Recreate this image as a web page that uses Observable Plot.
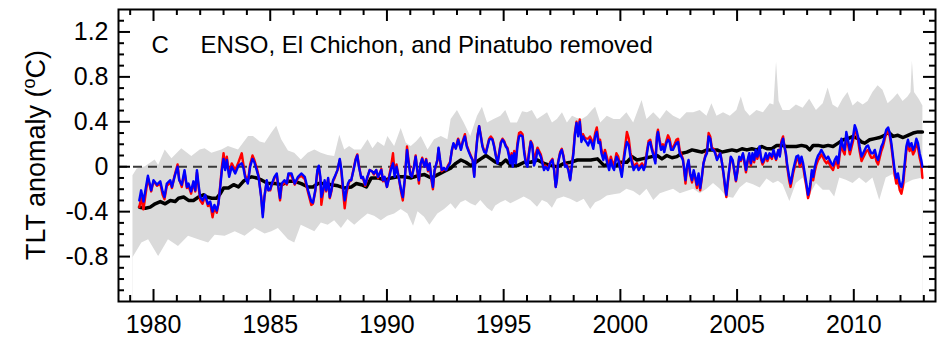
<!DOCTYPE html>
<html>
<head>
<meta charset="utf-8">
<script src="https://cdn.jsdelivr.net/npm/d3@7"></script>
<script src="https://cdn.jsdelivr.net/npm/@observablehq/plot@0.6"></script>
<style>
html, body { margin: 0; padding: 0; background: #fff; }
#chart svg { display: block; }
</style>
</head>
<body>
<div id="chart"></div>
<script>
// ---- Tick labels ----
const xMajorTicks = [1980, 1985, 1990, 1995, 2000, 2005, 2010];
const xMinorTicks = [1979, 1981, 1982, 1983, 1984, 1986, 1987, 1988, 1989, 1991, 1992, 1993, 1994, 1996, 1997, 1998, 1999, 2001, 2002, 2003, 2004, 2006, 2007, 2008, 2009, 2011, 2012, 2013];
const yMajorTicks = [-0.8, -0.4, 0, 0.4, 0.8, 1.2];
const yMinorTicks = [-1.1, -1.0, -0.9, -0.7, -0.6, -0.5, -0.3, -0.2, -0.1, 0.1, 0.2, 0.3, 0.5, 0.6, 0.7, 0.9, 1.0, 1.1, 1.3];

// ---- Satellite observations: [year, blue (UAH), red (RSS)] ----
const satObs = [
[1979.39,-0.30,-0.36],[1979.47,-0.21,-0.28],[1979.57,-0.31,-0.38],[1979.76,-0.08,-0.10],[1979.90,-0.21,-0.22],
[1980.00,-0.12,-0.13],[1980.15,-0.16,-0.17],[1980.29,-0.13,-0.15],[1980.39,-0.22,-0.25],[1980.47,-0.27,-0.29],
[1980.57,-0.15,-0.17],[1980.72,-0.12,-0.14],[1980.79,-0.18,-0.19],[1980.90,-0.09,-0.08],[1981.03,0.00,0.02],
[1981.10,-0.12,-0.11],[1981.21,-0.16,-0.18],[1981.33,-0.03,-0.05],[1981.43,-0.18,-0.19],[1981.50,-0.15,-0.17],
[1981.61,-0.22,-0.24],[1981.71,-0.13,-0.14],[1981.79,-0.21,-0.22],[1981.86,-0.03,-0.05],[1981.93,-0.16,-0.18],
[1982.00,-0.27,-0.30],[1982.10,-0.30,-0.33],[1982.21,-0.25,-0.26],[1982.33,-0.33,-0.35],[1982.43,-0.31,-0.33],
[1982.53,-0.40,-0.45],[1982.61,-0.34,-0.36],[1982.71,-0.39,-0.41],[1982.78,-0.33,-0.33],[1982.86,-0.18,-0.16],
[1982.93,-0.03,0.00],[1983.00,0.07,0.12],[1983.07,-0.03,0.00],[1983.14,0.06,0.09],[1983.24,-0.09,-0.07],
[1983.35,0.00,0.03],[1983.50,-0.06,-0.03],[1983.64,0.01,0.04],[1983.78,0.03,0.12],[1983.85,-0.01,0.02],
[1983.92,-0.09,-0.07],[1984.04,-0.15,-0.14],[1984.14,0.00,0.02],[1984.24,0.07,0.10],[1984.32,0.04,0.06],
[1984.42,-0.03,-0.01],[1984.50,-0.09,-0.08],[1984.61,-0.27,-0.26],[1984.68,-0.45,-0.42],[1984.75,-0.27,-0.27],
[1984.85,-0.12,-0.13],[1984.92,-0.21,-0.21],[1985.00,-0.20,-0.21],[1985.07,-0.15,-0.16],[1985.18,-0.09,-0.10],
[1985.28,-0.06,-0.07],[1985.35,-0.18,-0.19],[1985.42,-0.28,-0.30],[1985.49,-0.15,-0.17],[1985.61,-0.12,-0.14],
[1985.71,-0.15,-0.16],[1985.78,-0.06,-0.07],[1985.91,-0.06,-0.08],[1986.05,-0.15,-0.16],[1986.19,-0.09,-0.10],
[1986.33,-0.06,-0.08],[1986.48,-0.09,-0.11],[1986.62,-0.21,-0.23],[1986.76,-0.31,-0.34],[1986.83,-0.32,-0.33],
[1986.93,-0.21,-0.22],[1987.02,-0.03,-0.04],[1987.08,0.01,0.00],[1987.15,-0.09,-0.12],[1987.19,-0.27,-0.34],
[1987.26,-0.21,-0.24],[1987.33,-0.12,-0.14],[1987.40,-0.21,-0.22],[1987.48,-0.10,-0.11],[1987.55,-0.27,-0.28],
[1987.62,-0.21,-0.22],[1987.69,-0.12,-0.13],[1987.76,-0.09,-0.10],[1987.88,-0.03,-0.03],[1987.98,0.07,0.06],
[1988.05,-0.03,-0.05],[1988.12,-0.18,-0.22],[1988.19,-0.30,-0.37],[1988.26,-0.21,-0.25],[1988.33,-0.15,-0.17],
[1988.40,-0.12,-0.13],[1988.47,-0.12,-0.12],[1988.57,-0.03,-0.02],[1988.66,0.06,0.07],[1988.73,0.10,0.11],
[1988.80,0.00,0.01],[1988.90,-0.10,-0.10],[1988.97,-0.09,-0.10],[1989.07,-0.16,-0.17],[1989.16,-0.09,-0.10],
[1989.26,-0.03,-0.03],[1989.36,-0.04,-0.04],[1989.44,-0.06,-0.07],[1989.54,-0.03,-0.03],[1989.62,-0.09,-0.10],
[1989.76,-0.03,-0.02],[1989.83,-0.12,-0.13],[1989.90,-0.09,-0.10],[1990.00,-0.18,-0.18],[1990.09,-0.10,-0.09],
[1990.19,-0.01,0.02],[1990.26,0.03,0.12],[1990.33,-0.09,-0.06],[1990.41,0.00,0.02],[1990.50,-0.09,-0.09],
[1990.61,-0.21,-0.23],[1990.68,-0.27,-0.30],[1990.76,-0.12,-0.13],[1990.86,0.15,0.18],[1990.93,0.03,0.05],
[1991.00,-0.07,-0.06],[1991.07,-0.09,-0.09],[1991.16,0.00,0.01],[1991.23,0.09,0.10],[1991.30,-0.03,-0.04],
[1991.37,-0.12,-0.15],[1991.44,0.03,0.02],[1991.51,0.07,0.08],[1991.61,0.00,0.00],[1991.68,0.06,0.07],
[1991.76,-0.03,-0.04],[1991.83,0.03,0.03],[1991.90,-0.09,-0.11],[1991.97,-0.18,-0.20],[1992.04,-0.03,-0.04],
[1992.16,0.06,0.06],[1992.21,0.17,0.16],[1992.28,0.06,0.04],[1992.35,-0.03,-0.04],[1992.44,-0.01,-0.02],
[1992.53,-0.03,-0.03],[1992.61,0.00,0.01],[1992.70,0.03,0.04],[1992.78,0.15,0.14],[1992.85,0.21,0.20],
[1992.95,0.16,0.17],[1993.05,0.24,0.25],[1993.17,0.15,0.16],[1993.25,0.22,0.23],[1993.34,0.27,0.29],
[1993.42,0.18,0.19],[1993.51,0.13,0.14],[1993.59,0.09,0.10],[1993.67,0.06,0.06],[1993.74,-0.09,-0.08],
[1993.80,0.09,0.10],[1993.88,0.27,0.28],[1993.95,0.36,0.36],[1994.02,0.27,0.28],[1994.09,0.18,0.19],
[1994.17,0.13,0.14],[1994.24,0.12,0.13],[1994.31,0.18,0.19],[1994.38,0.24,0.25],[1994.45,0.25,0.27],
[1994.52,0.24,0.25],[1994.59,0.18,0.19],[1994.66,0.10,0.11],[1994.74,0.03,0.04],[1994.81,0.12,0.13],
[1994.88,0.21,0.22],[1994.95,0.24,0.25],[1995.02,0.22,0.23],[1995.09,0.18,0.19],[1995.16,0.16,0.17],
[1995.23,0.09,0.11],[1995.28,0.03,0.05],[1995.34,0.10,0.12],[1995.39,0.00,0.02],[1995.45,0.12,0.14],
[1995.52,0.03,0.05],[1995.59,0.18,0.21],[1995.66,0.27,0.30],[1995.73,0.28,0.31],[1995.81,0.27,0.29],
[1995.88,0.12,0.15],[1995.95,0.03,0.05],[1996.02,0.00,0.02],[1996.09,0.12,0.14],[1996.16,0.22,0.23],
[1996.23,0.18,0.20],[1996.30,0.01,0.04],[1996.38,0.06,0.12],[1996.45,0.15,0.17],[1996.52,0.12,0.14],
[1996.59,0.09,0.11],[1996.66,0.03,0.05],[1996.73,-0.03,-0.01],[1996.80,0.00,0.01],[1996.90,-0.03,-0.02],
[1996.99,0.03,0.04],[1997.09,0.06,0.07],[1997.16,-0.03,-0.02],[1997.23,-0.18,-0.18],[1997.28,-0.12,-0.11],
[1997.33,0.03,0.04],[1997.42,0.12,0.13],[1997.49,0.15,0.16],[1997.56,0.09,0.10],[1997.63,0.00,0.01],
[1997.70,0.01,0.02],[1997.77,-0.03,-0.02],[1997.85,-0.12,-0.11],[1997.92,0.00,0.01],[1997.99,0.12,0.14],
[1998.05,0.28,0.30],[1998.12,0.39,0.40],[1998.19,0.27,0.30],[1998.26,0.40,0.42],[1998.33,0.22,0.26],
[1998.40,0.27,0.29],[1998.47,0.24,0.26],[1998.54,0.22,0.25],[1998.62,0.19,0.25],[1998.70,0.24,0.27],
[1998.77,0.21,0.24],[1998.84,0.16,0.19],[1998.92,0.27,0.30],[1998.99,0.31,0.35],[1999.06,0.21,0.24],
[1999.13,0.22,0.24],[1999.19,0.12,0.15],[1999.27,0.06,0.09],[1999.34,0.12,0.15],[1999.44,0.03,0.07],
[1999.52,-0.03,0.01],[1999.59,0.06,0.09],[1999.66,0.00,0.04],[1999.73,-0.03,0.01],[1999.83,0.09,0.12],
[1999.91,0.06,0.09],[2000.00,-0.03,0.00],[2000.06,-0.09,-0.06],[2000.11,0.00,0.03],[2000.21,0.15,0.19],
[2000.28,0.22,0.31],[2000.36,0.19,0.25],[2000.43,0.09,0.13],[2000.50,0.03,0.06],[2000.57,-0.03,0.00],
[2000.64,0.00,0.02],[2000.71,0.01,0.03],[2000.78,-0.03,-0.01],[2000.85,-0.01,0.01],[2000.93,0.01,0.03],
[2001.00,-0.03,-0.01],[2001.07,0.01,0.03],[2001.14,0.12,0.14],[2001.21,0.21,0.23],[2001.28,0.22,0.24],
[2001.35,0.15,0.17],[2001.43,0.09,0.11],[2001.50,0.03,0.05],[2001.57,0.27,0.29],[2001.61,0.31,0.33],
[2001.68,0.22,0.24],[2001.74,0.15,0.18],[2001.82,0.18,0.20],[2001.88,0.13,0.16],[2001.97,0.21,0.23],
[2002.04,0.24,0.28],[2002.11,0.22,0.25],[2002.17,0.15,0.18],[2002.25,0.15,0.17],[2002.32,0.18,0.20],
[2002.40,0.21,0.24],[2002.47,0.22,0.25],[2002.54,0.12,0.15],[2002.61,0.09,0.11],[2002.68,0.06,0.07],
[2002.74,-0.03,-0.05],[2002.79,-0.12,-0.15],[2002.85,0.00,-0.02],[2002.92,0.06,0.05],[2002.99,-0.06,-0.07],
[2003.07,-0.12,-0.14],[2003.14,-0.03,-0.05],[2003.21,-0.09,-0.11],[2003.28,-0.16,-0.19],[2003.35,-0.06,-0.08],
[2003.42,-0.19,-0.21],[2003.49,-0.09,-0.10],[2003.56,0.03,0.03],[2003.64,0.09,0.10],[2003.71,0.12,0.14],
[2003.78,0.27,0.30],[2003.85,0.25,0.27],[2003.92,0.15,0.17],[2003.99,0.15,0.16],[2004.06,0.12,0.13],
[2004.14,0.06,0.07],[2004.21,0.09,0.10],[2004.28,0.12,0.12],[2004.35,0.04,0.04],[2004.42,-0.06,-0.07],
[2004.49,-0.18,-0.20],[2004.54,-0.25,-0.27],[2004.59,-0.15,-0.17],[2004.66,-0.03,-0.04],[2004.73,0.09,0.08],
[2004.81,0.06,0.05],[2004.88,-0.03,-0.04],[2004.95,-0.12,-0.13],[2005.02,-0.03,-0.04],[2005.09,0.09,0.08],
[2005.16,0.06,0.05],[2005.25,0.12,0.11],[2005.31,0.06,0.04],[2005.38,-0.03,-0.05],[2005.45,0.06,0.04],
[2005.52,0.12,0.10],[2005.59,0.03,0.01],[2005.66,0.12,0.10],[2005.73,0.06,0.04],[2005.80,0.15,0.13],
[2005.87,0.09,0.07],[2005.96,0.18,0.16],[2006.02,0.09,0.07],[2006.09,0.04,0.02],[2006.16,0.07,0.05],
[2006.23,0.12,0.10],[2006.30,0.07,0.05],[2006.39,0.12,0.10],[2006.49,0.09,0.07],[2006.56,0.15,0.13],
[2006.67,0.07,0.06],[2006.77,0.15,0.15],[2006.83,0.09,0.10],[2006.90,0.21,0.23],[2006.97,0.25,0.27],
[2007.03,0.18,0.18],[2007.09,0.12,0.11],[2007.14,0.03,0.01],[2007.23,-0.09,-0.12],[2007.29,-0.15,-0.18],
[2007.34,-0.10,-0.13],[2007.40,-0.03,-0.06],[2007.47,0.03,0.00],[2007.54,0.09,0.06],[2007.62,0.10,0.07],
[2007.69,0.03,0.00],[2007.76,0.09,0.06],[2007.83,0.03,0.00],[2007.90,-0.06,-0.09],[2007.97,-0.15,-0.18],
[2008.04,-0.25,-0.28],[2008.09,-0.21,-0.24],[2008.14,-0.15,-0.18],[2008.20,-0.03,-0.06],[2008.26,-0.09,-0.12],
[2008.33,0.00,-0.04],[2008.40,0.06,0.02],[2008.47,0.10,0.06],[2008.54,0.12,0.08],[2008.61,0.15,0.11],
[2008.69,0.12,0.08],[2008.76,0.09,0.05],[2008.83,0.07,0.03],[2008.90,0.09,0.05],[2008.97,0.06,0.02],
[2009.04,0.03,-0.01],[2009.11,0.01,-0.03],[2009.18,0.06,0.02],[2009.26,0.09,0.05],[2009.33,0.03,-0.01],
[2009.40,0.15,0.11],[2009.47,0.25,0.20],[2009.54,0.18,0.14],[2009.61,0.15,0.11],[2009.68,0.31,0.27],
[2009.75,0.24,0.20],[2009.83,0.15,0.11],[2009.90,0.21,0.17],[2009.97,0.27,0.23],[2010.04,0.37,0.33],
[2010.11,0.33,0.30],[2010.18,0.27,0.24],[2010.25,0.18,0.14],[2010.33,0.09,0.05],[2010.40,0.12,0.08],
[2010.47,0.15,0.11],[2010.54,0.18,0.14],[2010.61,0.19,0.15],[2010.68,0.15,0.11],[2010.75,0.12,0.08],
[2010.82,0.12,0.08],[2010.90,0.15,0.11],[2010.97,0.09,0.05],[2011.04,0.06,0.02],[2011.11,0.12,0.08],
[2011.18,0.18,0.14],[2011.25,0.21,0.18],[2011.32,0.27,0.24],[2011.39,0.33,0.30],[2011.47,0.35,0.31],
[2011.54,0.30,0.27],[2011.61,0.21,0.18],[2011.68,0.09,0.06],[2011.75,-0.03,-0.07],[2011.82,-0.10,-0.15],
[2011.89,-0.06,-0.11],[2011.97,-0.15,-0.21],[2012.04,-0.18,-0.24],[2012.11,-0.12,-0.17],[2012.18,0.03,-0.01],
[2012.25,0.18,0.14],[2012.32,0.24,0.20],[2012.39,0.18,0.14],[2012.47,0.21,0.17],[2012.54,0.15,0.11],
[2012.61,0.18,0.14],[2012.68,0.25,0.21],[2012.75,0.21,0.17],[2012.82,0.12,0.08],[2012.89,0.06,0.02],
[2012.94,0.00,-0.10]
];

// ---- Multi-model mean (black): [year, value] ----
const modelMean = [
[1979.40,-0.36],[1979.65,-0.37],[1979.86,-0.36],[1980.07,-0.33],[1980.29,-0.31],[1980.50,-0.33],[1980.72,-0.30],
[1980.93,-0.31],[1981.07,-0.28],[1981.29,-0.27],[1981.50,-0.30],[1981.71,-0.30],[1981.93,-0.27],[1982.14,-0.25],
[1982.29,-0.27],[1982.50,-0.28],[1982.71,-0.28],[1982.86,-0.24],[1983.00,-0.19],[1983.21,-0.19],[1983.43,-0.16],
[1983.64,-0.18],[1983.85,-0.13],[1984.07,-0.10],[1984.21,-0.09],[1984.42,-0.10],[1984.64,-0.12],[1984.92,-0.15],
[1985.21,-0.15],[1985.49,-0.16],[1985.78,-0.13],[1986.05,-0.13],[1986.33,-0.15],[1986.62,-0.18],[1986.83,-0.18],
[1987.05,-0.15],[1987.33,-0.15],[1987.62,-0.16],[1987.90,-0.17],[1988.19,-0.19],[1988.47,-0.18],[1988.69,-0.15],
[1988.90,-0.16],[1989.12,-0.18],[1989.33,-0.10],[1989.62,-0.10],[1989.90,-0.12],[1990.19,-0.10],[1990.47,-0.09],
[1990.76,-0.09],[1991.04,-0.10],[1991.33,-0.08],[1991.61,-0.07],[1991.90,-0.10],[1992.18,-0.07],[1992.47,-0.04],
[1992.75,-0.01],[1992.95,0.03],[1993.17,0.06],[1993.38,0.04],[1993.59,0.01],[1993.81,0.04],[1994.02,0.07],
[1994.24,0.10],[1994.45,0.07],[1994.66,0.04],[1994.88,0.02],[1995.09,0.06],[1995.31,0.01],[1995.59,0.01],
[1995.88,0.04],[1996.16,0.04],[1996.45,0.06],[1996.73,0.03],[1997.02,0.01],[1997.30,0.00],[1997.59,0.03],
[1997.87,0.04],[1998.16,0.06],[1998.45,0.06],[1998.73,0.06],[1999.02,0.07],[1999.30,0.01],[1999.59,0.03],
[1999.83,0.01],[2000.00,0.04],[2000.28,0.04],[2000.50,0.09],[2000.71,0.06],[2000.93,0.07],[2001.14,0.08],
[2001.35,0.09],[2001.57,0.10],[2001.78,0.07],[2001.99,0.10],[2002.21,0.08],[2002.42,0.09],[2002.64,0.12],
[2002.85,0.13],[2003.07,0.15],[2003.28,0.14],[2003.49,0.13],[2003.71,0.15],[2003.92,0.15],[2004.14,0.15],
[2004.35,0.13],[2004.56,0.14],[2004.78,0.15],[2004.99,0.14],[2005.21,0.16],[2005.42,0.15],[2005.63,0.16],
[2005.85,0.15],[2006.06,0.18],[2006.28,0.16],[2006.49,0.16],[2006.70,0.19],[2006.90,0.19],[2007.12,0.18],
[2007.33,0.18],[2007.54,0.18],[2007.76,0.19],[2007.97,0.18],[2008.11,0.15],[2008.26,0.19],[2008.47,0.19],
[2008.69,0.18],[2008.90,0.19],[2009.11,0.18],[2009.33,0.21],[2009.54,0.24],[2009.75,0.25],[2009.97,0.27],
[2010.18,0.25],[2010.33,0.22],[2010.47,0.21],[2010.68,0.24],[2010.90,0.25],[2011.11,0.26],[2011.32,0.28],
[2011.47,0.31],[2011.68,0.27],[2011.89,0.28],[2012.11,0.26],[2012.32,0.28],[2012.54,0.30],[2012.75,0.31],
[2012.94,0.31]
];

// ---- Individual model runs: upper and lower edge of the grey spread ----
const ensembleHi = [
[1979.12,-0.08],[1979.30,-0.02],[1979.65,0.00],[1980.07,0.06],[1980.22,0.01],[1980.50,0.15],[1980.79,0.07],
[1981.21,0.16],[1981.64,0.09],[1982.00,0.15],[1982.21,0.16],[1982.50,0.12],[1982.93,0.15],[1983.21,0.18],
[1983.64,0.15],[1984.07,0.27],[1984.28,0.27],[1984.57,0.22],[1984.78,0.21],[1985.07,0.30],[1985.28,0.36],
[1985.49,0.24],[1985.78,0.14],[1986.05,0.12],[1986.33,0.06],[1986.62,0.12],[1986.91,0.15],[1987.19,0.12],
[1987.48,0.10],[1987.76,0.09],[1987.98,0.28],[1988.19,0.15],[1988.40,0.18],[1988.62,0.15],[1988.90,0.15],
[1989.19,0.24],[1989.40,0.16],[1989.62,0.22],[1989.90,0.18],[1990.04,0.27],[1990.33,0.18],[1990.61,0.34],
[1990.83,0.21],[1991.04,0.18],[1991.26,0.22],[1991.47,0.27],[1991.76,0.15],[1992.04,0.24],[1992.33,0.27],
[1992.61,0.24],[1992.75,0.42],[1993.02,0.50],[1993.31,0.39],[1993.59,0.27],[1993.88,0.45],[1994.09,0.53],
[1994.31,0.39],[1994.59,0.42],[1994.88,0.45],[1995.09,0.50],[1995.31,0.39],[1995.59,0.39],[1995.81,0.49],
[1996.02,0.48],[1996.23,0.50],[1996.45,0.42],[1996.66,0.45],[1996.88,0.48],[1997.09,0.39],[1997.30,0.42],
[1997.52,0.48],[1997.73,0.39],[1997.95,0.45],[1998.16,0.43],[1998.37,0.42],[1998.59,0.45],[1998.80,0.50],
[1998.94,0.53],[1999.16,0.39],[1999.44,0.45],[1999.73,0.42],[2000.00,0.42],[2000.28,0.48],[2000.57,0.39],
[2000.93,0.59],[2001.14,0.42],[2001.43,0.48],[2001.71,0.42],[2001.99,0.50],[2002.28,0.45],[2002.57,0.42],
[2002.85,0.48],[2003.14,0.48],[2003.42,0.50],[2003.71,0.45],[2003.92,0.56],[2004.14,0.45],[2004.42,0.48],
[2004.71,0.45],[2004.99,0.50],[2005.18,0.62],[2005.35,0.50],[2005.56,0.45],[2005.85,0.50],[2006.13,0.48],
[2006.42,0.56],[2006.58,0.55],[2006.69,0.93],[2006.80,0.58],[2006.97,0.50],[2007.26,0.50],[2007.54,0.55],
[2007.83,0.52],[2008.11,0.60],[2008.40,0.50],[2008.69,0.56],[2008.90,0.70],[2009.11,0.55],[2009.33,0.52],
[2009.54,0.60],[2009.75,0.66],[2009.97,0.54],[2010.18,0.58],[2010.40,0.55],[2010.61,0.58],[2010.82,0.66],
[2011.04,0.72],[2011.25,0.68],[2011.47,0.56],[2011.68,0.60],[2011.89,0.65],[2012.11,0.58],[2012.32,0.62],
[2012.45,0.66],[2012.51,0.94],[2012.60,0.66],[2012.80,0.60],[2012.96,0.54]
];
const ensembleLo = [
[1979.12,-0.81],[1979.50,-0.68],[1979.79,-0.65],[1980.22,-0.80],[1980.64,-0.65],[1981.07,-0.71],[1981.50,-0.62],
[1981.93,-0.65],[1982.36,-0.68],[1982.64,-0.61],[1983.07,-0.62],[1983.50,-0.58],[1983.92,-0.62],[1984.35,-0.55],
[1984.78,-0.60],[1985.07,-0.58],[1985.35,-0.55],[1985.78,-0.65],[1986.05,-0.68],[1986.33,-0.52],[1986.62,-0.55],
[1986.91,-0.58],[1987.19,-0.50],[1987.48,-0.52],[1987.76,-0.48],[1988.05,-0.55],[1988.33,-0.47],[1988.62,-0.52],
[1988.90,-0.47],[1989.19,-0.42],[1989.47,-0.44],[1989.76,-0.48],[1990.04,-0.44],[1990.33,-0.42],[1990.61,-0.38],
[1990.90,-0.42],[1991.14,-0.53],[1991.33,-0.40],[1991.61,-0.45],[1991.84,-0.52],[1992.18,-0.42],[1992.47,-0.38],
[1992.75,-0.33],[1992.95,-0.38],[1993.17,-0.32],[1993.38,-0.30],[1993.59,-0.33],[1993.81,-0.35],[1994.02,-0.30],
[1994.31,-0.37],[1994.52,-0.40],[1994.66,-0.35],[1994.88,-0.32],[1995.09,-0.30],[1995.31,-0.33],[1995.59,-0.30],
[1995.88,-0.27],[1996.16,-0.30],[1996.45,-0.36],[1996.66,-0.30],[1996.88,-0.32],[1997.09,-0.37],[1997.30,-0.29],
[1997.59,-0.27],[1997.87,-0.29],[1998.16,-0.32],[1998.45,-0.29],[1998.73,-0.38],[1998.94,-0.32],[1999.16,-0.30],
[1999.44,-0.26],[1999.73,-0.25],[2000.00,-0.24],[2000.28,-0.20],[2000.57,-0.22],[2000.85,-0.26],[2001.14,-0.20],
[2001.43,-0.30],[2001.71,-0.24],[2001.99,-0.22],[2002.28,-0.20],[2002.57,-0.24],[2002.85,-0.22],[2003.14,-0.20],
[2003.42,-0.24],[2003.71,-0.20],[2003.99,-0.15],[2004.28,-0.20],[2004.56,-0.27],[2004.85,-0.28],[2005.13,-0.19],
[2005.42,-0.14],[2005.70,-0.16],[2005.99,-0.19],[2006.28,-0.11],[2006.56,-0.15],[2006.77,-0.13],[2006.97,-0.16],
[2007.26,-0.31],[2007.54,-0.15],[2007.83,-0.10],[2008.11,-0.26],[2008.40,-0.15],[2008.69,-0.21],[2008.97,-0.21],
[2009.18,-0.27],[2009.40,-0.10],[2009.68,-0.12],[2009.97,-0.15],[2010.25,-0.10],[2010.54,-0.15],[2010.82,-0.10],
[2011.11,-0.30],[2011.39,-0.10],[2011.68,-0.07],[2011.97,-0.22],[2012.25,-0.15],[2012.54,-0.12],[2012.96,-0.10]
];

const panelLetter = ["C"];
const panelTitle = ["ENSO, El Chichon, and Pinatubo removed"];

// ---- Layout ----
const W = 949, H = 343;
const mL = 118, mR = 14, mT = 9, mB = 42;
const frameW = W - mL - mR, frameH = H - mT - mB;
const majorLen = 12, minorLen = 6;
const FONT = "'Liberation Sans', Arial, Helvetica, sans-serif";
const yFmt = d => d === 0 ? "0" : d.toFixed(1);
const xLeft = 1978.5, yBottom = -1.2;

const chart = Plot.plot({
  width: W,
  height: H,
  marginLeft: mL,
  marginRight: mR,
  marginTop: mT,
  marginBottom: mB,
  x: {domain: [xLeft, 2013.5], axis: null},
  y: {domain: [yBottom, 1.4], axis: null},
  style: {fontFamily: FONT, fontSize: "24px", background: "white", color: "black"},
  marks: [
    // grey model spread
    Plot.areaY(ensembleHi, {x: d => d[0], y1: yBottom, y2: d => d[1], fill: "#dadada"}),
    Plot.areaY(ensembleLo, {x: d => d[0], y1: yBottom, y2: d => d[1], fill: "white"}),
    // zero line
    Plot.ruleY([0], {stroke: "#3a3a3a", strokeWidth: 2, strokeDasharray: "9,6"}),
    // model mean
    Plot.line(modelMean, {x: d => d[0], y: d => d[1], stroke: "black", strokeWidth: 3.5}),
    // observations
    Plot.line(satObs, {x: d => d[0], y: d => d[2], stroke: "#ff0000", strokeWidth: 2.4}),
    Plot.line(satObs, {x: d => d[0], y: d => d[1], stroke: "#0000ff", strokeWidth: 2.4}),
    // frame
    Plot.frame({stroke: "black", strokeWidth: 2}),
    // inward ticks – bottom / top
    Plot.tickX(xMajorTicks, {x: d => d, insetTop: frameH - majorLen, stroke: "black", strokeWidth: 2}),
    Plot.tickX(xMinorTicks, {x: d => d, insetTop: frameH - minorLen, stroke: "black", strokeWidth: 2}),
    Plot.tickX(xMajorTicks, {x: d => d, insetBottom: frameH - majorLen, stroke: "black", strokeWidth: 2}),
    Plot.tickX(xMinorTicks, {x: d => d, insetBottom: frameH - minorLen, stroke: "black", strokeWidth: 2}),
    // inward ticks – left / right
    Plot.tickY(yMajorTicks, {y: d => d, insetRight: frameW - majorLen, stroke: "black", strokeWidth: 2}),
    Plot.tickY(yMinorTicks, {y: d => d, insetRight: frameW - minorLen, stroke: "black", strokeWidth: 2}),
    Plot.tickY(yMajorTicks, {y: d => d, insetLeft: frameW - majorLen, stroke: "black", strokeWidth: 2}),
    Plot.tickY(yMinorTicks, {y: d => d, insetLeft: frameW - minorLen, stroke: "black", strokeWidth: 2}),
    // tick labels
    Plot.text(xMajorTicks, {x: d => d, y: yBottom, text: d => String(d), lineAnchor: "top", textAnchor: "middle", dy: 14, fontSize: 25, fill: "black"}),
    Plot.text(yMajorTicks, {x: xLeft, y: d => d, text: yFmt, lineAnchor: "middle", textAnchor: "end", dx: -10, fontSize: 25, fill: "black"}),
    // panel annotation
    Plot.text(panelLetter, {text: d => d, frameAnchor: "top-left", textAnchor: "start", lineAnchor: "top", dx: 33, dy: 26, fontSize: 24, fill: "black"}),
    Plot.text(panelTitle, {text: d => d, frameAnchor: "top-left", textAnchor: "start", lineAnchor: "top", dx: 82, dy: 26, fontSize: 24, fill: "black"})
  ]
});

document.getElementById("chart").appendChild(chart);

// y-axis title with superscript "o"
const svg = d3.select(chart);
const yTitle = svg.append("text")
  .attr("transform", "translate(45,155) rotate(-90)")
  .attr("text-anchor", "middle")
  .attr("font-family", FONT)
  .attr("font-size", 27)
  .attr("fill", "black");
yTitle.append("tspan").text("TLT anomaly (");
yTitle.append("tspan").attr("font-size", 18).attr("dy", -10).text("o");
yTitle.append("tspan").attr("dy", 10).text("C)");
</script>
</body>
</html>
